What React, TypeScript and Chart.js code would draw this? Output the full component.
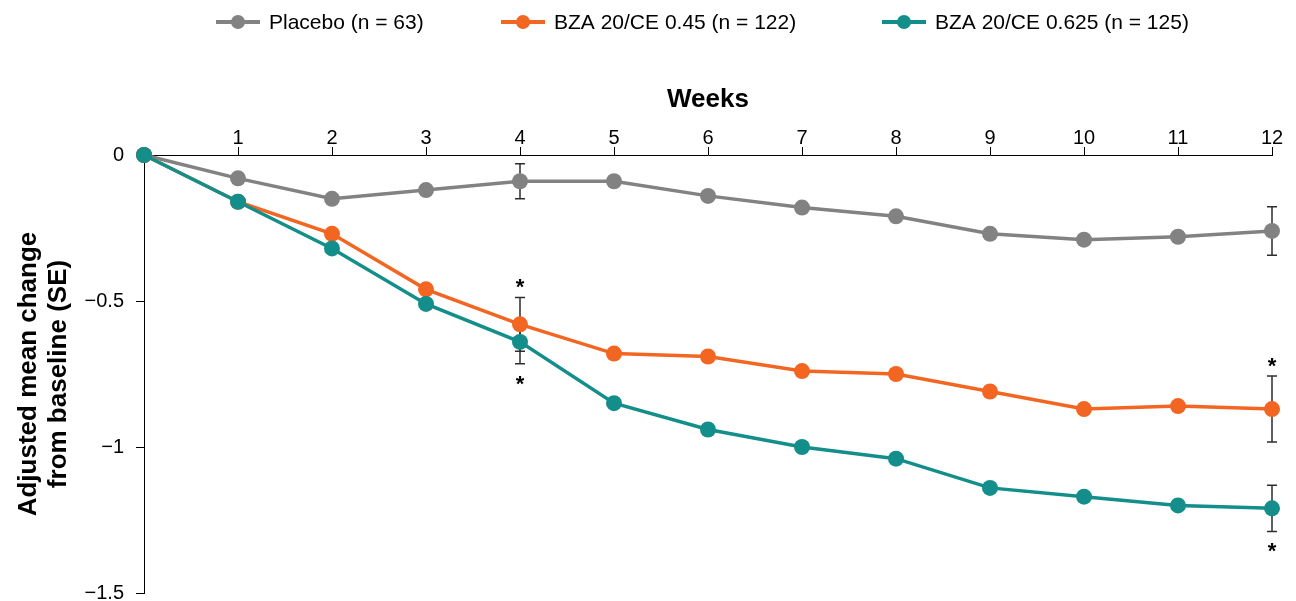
import React, { useEffect, useRef } from "react";
import { Chart, registerables } from "chart.js";

Chart.register(...registerables);

// ---- Data ----
const weeks = [0, 1, 2, 3, 4, 5, 6, 7, 8, 9, 10, 11, 12];
const placebo = [0, -0.08, -0.15, -0.12, -0.09, -0.09, -0.14, -0.18, -0.21, -0.27, -0.29, -0.28, -0.26];
const bza045 = [0, -0.16, -0.27, -0.46, -0.58, -0.68, -0.69, -0.74, -0.75, -0.81, -0.87, -0.86, -0.87];
const bza0625 = [0, -0.16, -0.32, -0.51, -0.64, -0.85, -0.94, -1.0, -1.04, -1.14, -1.17, -1.2, -1.21];

const seWeeks = [4, 12];
const placeboSE = [0.06, 0.083];
const bza045SE = [0.092, 0.113];
const bza0625SE = [0.075, 0.079];

const sigAboveWeeks045 = [4, 12];
const sigBelowWeeks0625 = [4, 12];

const seriesLabels = ["Placebo (n = 63)", "BZA 20/CE 0.45 (n = 122)", "BZA 20/CE 0.625 (n = 125)"];
const yTickValues = [0, -0.5, -1, -1.5];
const yTickLabels = ["0", "\u22120.5", "\u22121", "\u22121.5"];
const xTitle = "Weeks";
const yTitle = ["Adjusted mean change", "from baseline (SE)"];

// ---- Styles ----
const FONT = "'Liberation Sans', Arial, Helvetica, sans-serif";
const GRAY = "#828282";
const ORANGE = "#F26622";
const TEAL = "#138E8A";
const ERR = "#2e2e2e";
const LEGEND_X = [216, 501, 882];

function toPoints(vals: number[]) {
  return weeks.map((w, i) => ({ x: w, y: vals[i] }));
}

const errorBarPlugin = {
  id: "errorBars",
  beforeDatasetsDraw(chart: any) {
    const { ctx, scales } = chart;
    const xs = scales.x;
    const ys = scales.y;
    ctx.save();
    ctx.strokeStyle = ERR;
    ctx.lineWidth = 1.5;
    chart.data.datasets.forEach((ds: any) => {
      const se: number[] = ds.se;
      if (!se) return;
      seWeeks.forEach((w, k) => {
        const v = ds.data.find((p: any) => p.x === w).y;
        const x = xs.getPixelForValue(w);
        const yt = ys.getPixelForValue(v + se[k]);
        const yb = ys.getPixelForValue(v - se[k]);
        ctx.beginPath();
        ctx.moveTo(x, yt);
        ctx.lineTo(x, yb);
        ctx.moveTo(x - 5, yt);
        ctx.lineTo(x + 5, yt);
        ctx.moveTo(x - 5, yb);
        ctx.lineTo(x + 5, yb);
        ctx.stroke();
      });
    });
    ctx.restore();
  },
  afterDatasetsDraw(chart: any) {
    const { ctx, scales } = chart;
    const xs = scales.x;
    const ys = scales.y;
    ctx.save();
    ctx.fillStyle = "#000";
    ctx.font = `bold 22px ${FONT}`;
    ctx.textAlign = "center";
    ctx.textBaseline = "alphabetic";
    const ds1 = chart.data.datasets.find((d: any) => d.key === "bza045");
    const ds2 = chart.data.datasets.find((d: any) => d.key === "bza0625");
    sigAboveWeeks045.forEach((w) => {
      const k = seWeeks.indexOf(w);
      const v = ds1.data.find((p: any) => p.x === w).y;
      const yt = ys.getPixelForValue(v + ds1.se[k]);
      ctx.fillText("*", xs.getPixelForValue(w), yt - 15 + 12);
    });
    sigBelowWeeks0625.forEach((w) => {
      const k = seWeeks.indexOf(w);
      const v = ds2.data.find((p: any) => p.x === w).y;
      const yb = ys.getPixelForValue(v - ds2.se[k]);
      ctx.fillText("*", xs.getPixelForValue(w), yb + 15 + 12);
    });
    ctx.restore();
  },
};

const legendPlugin = {
  id: "customLegend",
  afterDraw(chart: any) {
    const { ctx } = chart;
    const items = [...chart.data.datasets].sort((a: any, b: any) => a.legendIndex - b.legendIndex);
    ctx.save();
    ctx.font = `21px ${FONT}`;
    ctx.textBaseline = "middle";
    ctx.textAlign = "left";
    const y = 22;
    items.forEach((ds: any, i: number) => {
      const x0 = LEGEND_X[i];
      ctx.strokeStyle = ds.borderColor;
      ctx.lineWidth = 4;
      ctx.beginPath();
      ctx.moveTo(x0, y);
      ctx.lineTo(x0 + 44, y);
      ctx.stroke();
      ctx.fillStyle = ds.borderColor;
      ctx.beginPath();
      ctx.arc(x0 + 22, y, 7, 0, Math.PI * 2);
      ctx.fill();
      ctx.fillStyle = "#000";
      ctx.fillText(ds.label, x0 + 53, y + 1);
    });
    ctx.restore();
  },
};

export default function App() {
  const ref = useRef<HTMLCanvasElement | null>(null);

  useEffect(() => {
    if (!ref.current) return;
    Chart.defaults.font.family = FONT;
    const common = {
      borderWidth: 3.5,
      pointRadius: 8,
      pointHoverRadius: 8,
      pointBorderWidth: 0,
      tension: 0,
      clip: false as any,
      fill: false,
    };
    const chart = new Chart(ref.current, {
      type: "line",
      data: {
        datasets: [
          {
            ...common,
            key: "bza0625",
            legendIndex: 2,
            label: seriesLabels[2],
            data: toPoints(bza0625),
            borderColor: TEAL,
            backgroundColor: TEAL,
            pointBackgroundColor: TEAL,
            se: bza0625SE,
          } as any,
          {
            ...common,
            key: "bza045",
            legendIndex: 1,
            label: seriesLabels[1],
            data: toPoints(bza045),
            borderColor: ORANGE,
            backgroundColor: ORANGE,
            pointBackgroundColor: ORANGE,
            se: bza045SE,
          } as any,
          {
            ...common,
            key: "placebo",
            legendIndex: 0,
            label: seriesLabels[0],
            data: toPoints(placebo),
            borderColor: GRAY,
            backgroundColor: GRAY,
            pointBackgroundColor: GRAY,
            se: placeboSE,
          } as any,
        ],
      },
      options: {
        animation: false,
        responsive: true,
        maintainAspectRatio: false,
        layout: { padding: { top: 45, left: 0, right: 0, bottom: 0 } },
        plugins: {
          legend: { display: false },
          tooltip: { enabled: false },
        },
        scales: {
          x: {
            type: "linear",
            position: "top",
            min: 0,
            max: 12,
            afterBuildTicks: (axis: any) => {
              axis.ticks = weeks.filter((w) => w !== 0).map((w) => ({ value: w }));
            },
            afterFit: (scale: any) => {
              scale.height = 110;
              scale.paddingLeft = 0;
              scale.paddingRight = 24;
            },
            ticks: {
              color: "#000",
              font: { size: 20, family: FONT },
              padding: -3,
              maxRotation: 0,
              autoSkip: false,
            },
            grid: {
              drawOnChartArea: false,
              drawTicks: true,
              tickLength: 8,
              color: "#000",
              lineWidth: 1,
            },
            border: { color: "#000", width: 1 },
            title: {
              display: true,
              text: xTitle,
              color: "#000",
              font: { size: 26, weight: "bold", family: FONT },
              padding: { top: 39, bottom: 0 },
            },
          },
          y: {
            type: "linear",
            position: "left",
            min: -1.5,
            max: 0,
            afterBuildTicks: (axis: any) => {
              axis.ticks = yTickValues.map((v) => ({ value: v }));
            },
            afterFit: (scale: any) => {
              scale.width = 144;
              scale.paddingBottom = 8;
            },
            ticks: {
              color: "#000",
              font: { size: 20, family: FONT },
              padding: 12,
              autoSkip: false,
              callback: (v: any) => {
                const i = yTickValues.indexOf(Number(v));
                return i >= 0 ? yTickLabels[i] : "";
              },
            },
            grid: {
              drawOnChartArea: false,
              drawTicks: true,
              tickLength: 8,
              color: "#000",
              lineWidth: 1,
            },
            border: { color: "#000", width: 1 },
            title: {
              display: true,
              text: yTitle,
              color: "#000",
              font: { size: 26, weight: "bold", family: FONT, lineHeight: 1.15 },
              padding: { top: 14, bottom: 0 },
            },
          },
        },
      } as any,
      plugins: [errorBarPlugin, legendPlugin],
    });
    return () => chart.destroy();
  }, []);

  return (
    <div style={{ position: "fixed", left: 0, top: 0, width: 1296, height: 601 }}>
      <canvas ref={ref} />
    </div>
  );
}
